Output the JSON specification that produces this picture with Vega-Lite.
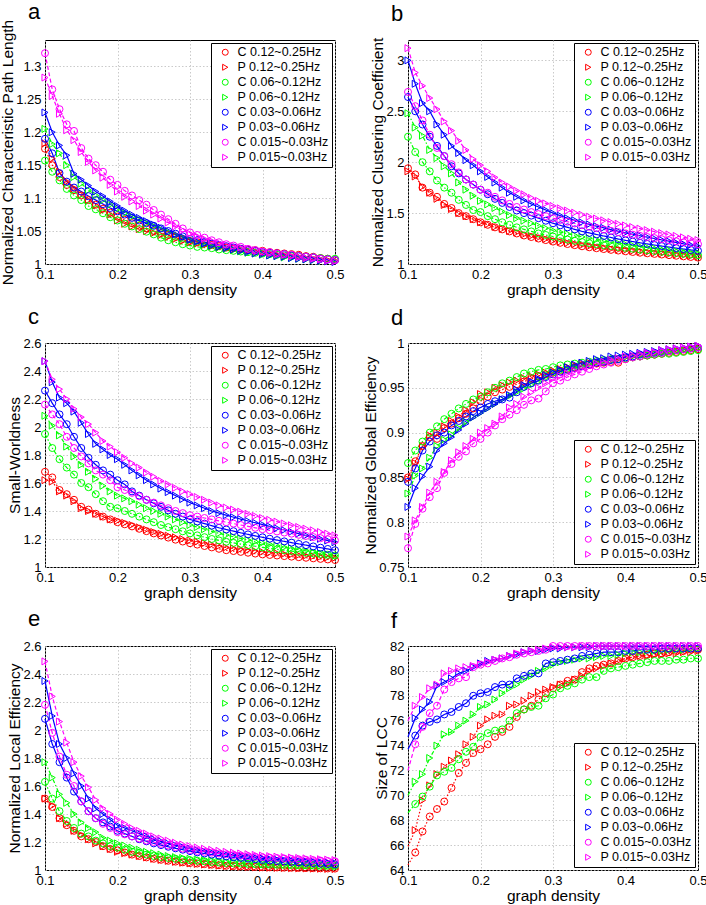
{
"$schema": "https://vega.github.io/schema/vega-lite/v6.json",
"padding": {"left": 0, "top": 0, "right": 0, "bottom": 0},
"params": [
{"name": "lab", "value": {"k1c": "C 0.12~0.25Hz", "k1p": "P 0.12~0.25Hz", "k2c": "C 0.06~0.12Hz", "k2p": "P 0.06~0.12Hz", "k3c": "C 0.03~0.06Hz", "k3p": "P 0.03~0.06Hz", "k4c": "C 0.015~0.03Hz", "k4p": "P 0.015~0.03Hz"}}
],
"datasets": {
"A": [
{"x":0.10,"k1c":1.175,"k1p":1.183,"k2c":1.157,"k2p":1.205,"k3c":1.190,"k3p":1.230,"k4c":1.320,"k4p":1.283},
{"x":0.11,"k1c":1.150,"k1p":1.160,"k2c":1.140,"k2p":1.182,"k3c":1.168,"k3p":1.200,"k4c":1.265,"k4p":1.255},
{"x":0.12,"k1c":1.132,"k1p":1.140,"k2c":1.127,"k2p":1.168,"k3c":1.138,"k3p":1.180,"k4c":1.235,"k4p":1.228},
{"x":0.13,"k1c":1.120,"k1p":1.125,"k2c":1.114,"k2p":1.150,"k3c":1.125,"k3p":1.165,"k4c":1.212,"k4p":1.203},
{"x":0.14,"k1c":1.112,"k1p":1.115,"k2c":1.104,"k2p":1.132,"k3c":1.116,"k3p":1.137,"k4c":1.202,"k4p":1.188},
{"x":0.15,"k1c":1.104,"k1p":1.105,"k2c":1.097,"k2p":1.122,"k3c":1.110,"k3p":1.128,"k4c":1.176,"k4p":1.170},
{"x":0.16,"k1c":1.097,"k1p":1.097,"k2c":1.088,"k2p":1.112,"k3c":1.103,"k3p":1.119,"k4c":1.160,"k4p":1.155},
{"x":0.17,"k1c":1.090,"k1p":1.089,"k2c":1.083,"k2p":1.104,"k3c":1.097,"k3p":1.110,"k4c":1.150,"k4p":1.142},
{"x":0.18,"k1c":1.084,"k1p":1.082,"k2c":1.077,"k2p":1.097,"k3c":1.091,"k3p":1.103,"k4c":1.140,"k4p":1.131},
{"x":0.19,"k1c":1.078,"k1p":1.075,"k2c":1.071,"k2p":1.090,"k3c":1.085,"k3p":1.095,"k4c":1.128,"k4p":1.120},
{"x":0.20,"k1c":1.072,"k1p":1.066,"k2c":1.066,"k2p":1.083,"k3c":1.080,"k3p":1.088,"k4c":1.120,"k4p":1.110},
{"x":0.21,"k1c":1.067,"k1p":1.061,"k2c":1.061,"k2p":1.077,"k3c":1.075,"k3p":1.081,"k4c":1.111,"k4p":1.102},
{"x":0.22,"k1c":1.062,"k1p":1.057,"k2c":1.057,"k2p":1.072,"k3c":1.070,"k3p":1.075,"k4c":1.104,"k4p":1.095},
{"x":0.23,"k1c":1.058,"k1p":1.053,"k2c":1.053,"k2p":1.067,"k3c":1.066,"k3p":1.070,"k4c":1.097,"k4p":1.088},
{"x":0.24,"k1c":1.054,"k1p":1.050,"k2c":1.049,"k2p":1.062,"k3c":1.062,"k3p":1.065,"k4c":1.090,"k4p":1.081},
{"x":0.25,"k1c":1.050,"k1p":1.047,"k2c":1.045,"k2p":1.057,"k3c":1.058,"k3p":1.060,"k4c":1.082,"k4p":1.075},
{"x":0.26,"k1c":1.047,"k1p":1.044,"k2c":1.040,"k2p":1.052,"k3c":1.054,"k3p":1.055,"k4c":1.075,"k4p":1.069},
{"x":0.27,"k1c":1.044,"k1p":1.041,"k2c":1.036,"k2p":1.048,"k3c":1.050,"k3p":1.050,"k4c":1.068,"k4p":1.063},
{"x":0.28,"k1c":1.041,"k1p":1.038,"k2c":1.033,"k2p":1.044,"k3c":1.046,"k3p":1.045,"k4c":1.061,"k4p":1.057},
{"x":0.29,"k1c":1.038,"k1p":1.035,"k2c":1.030,"k2p":1.040,"k3c":1.042,"k3p":1.041,"k4c":1.054,"k4p":1.051},
{"x":0.30,"k1c":1.035,"k1p":1.033,"k2c":1.028,"k2p":1.036,"k3c":1.038,"k3p":1.037,"k4c":1.048,"k4p":1.046},
{"x":0.31,"k1c":1.033,"k1p":1.031,"k2c":1.026,"k2p":1.033,"k3c":1.036,"k3p":1.034,"k4c":1.044,"k4p":1.042},
{"x":0.32,"k1c":1.031,"k1p":1.029,"k2c":1.025,"k2p":1.030,"k3c":1.033,"k3p":1.031,"k4c":1.040,"k4p":1.038},
{"x":0.33,"k1c":1.029,"k1p":1.027,"k2c":1.024,"k2p":1.027,"k3c":1.031,"k3p":1.028,"k4c":1.036,"k4p":1.035},
{"x":0.34,"k1c":1.027,"k1p":1.025,"k2c":1.022,"k2p":1.025,"k3c":1.029,"k3p":1.026,"k4c":1.033,"k4p":1.032},
{"x":0.35,"k1c":1.025,"k1p":1.024,"k2c":1.021,"k2p":1.023,"k3c":1.027,"k3p":1.024,"k4c":1.030,"k4p":1.029},
{"x":0.36,"k1c":1.024,"k1p":1.022,"k2c":1.020,"k2p":1.021,"k3c":1.025,"k3p":1.022,"k4c":1.028,"k4p":1.027},
{"x":0.37,"k1c":1.023,"k1p":1.021,"k2c":1.019,"k2p":1.019,"k3c":1.023,"k3p":1.020,"k4c":1.026,"k4p":1.025},
{"x":0.38,"k1c":1.022,"k1p":1.020,"k2c":1.018,"k2p":1.017,"k3c":1.021,"k3p":1.018,"k4c":1.023,"k4p":1.023},
{"x":0.39,"k1c":1.021,"k1p":1.019,"k2c":1.017,"k2p":1.016,"k3c":1.020,"k3p":1.016,"k4c":1.021,"k4p":1.021},
{"x":0.40,"k1c":1.020,"k1p":1.017,"k2c":1.016,"k2p":1.014,"k3c":1.018,"k3p":1.015,"k4c":1.019,"k4p":1.019},
{"x":0.41,"k1c":1.018,"k1p":1.016,"k2c":1.015,"k2p":1.013,"k3c":1.017,"k3p":1.013,"k4c":1.018,"k4p":1.017},
{"x":0.42,"k1c":1.017,"k1p":1.014,"k2c":1.014,"k2p":1.012,"k3c":1.016,"k3p":1.012,"k4c":1.016,"k4p":1.015},
{"x":0.43,"k1c":1.016,"k1p":1.013,"k2c":1.013,"k2p":1.010,"k3c":1.015,"k3p":1.011,"k4c":1.015,"k4p":1.014},
{"x":0.44,"k1c":1.015,"k1p":1.012,"k2c":1.012,"k2p":1.009,"k3c":1.013,"k3p":1.009,"k4c":1.014,"k4p":1.012},
{"x":0.45,"k1c":1.014,"k1p":1.011,"k2c":1.012,"k2p":1.008,"k3c":1.012,"k3p":1.008,"k4c":1.012,"k4p":1.011},
{"x":0.46,"k1c":1.012,"k1p":1.009,"k2c":1.011,"k2p":1.007,"k3c":1.011,"k3p":1.007,"k4c":1.011,"k4p":1.009},
{"x":0.47,"k1c":1.011,"k1p":1.008,"k2c":1.010,"k2p":1.006,"k3c":1.010,"k3p":1.006,"k4c":1.010,"k4p":1.008},
{"x":0.48,"k1c":1.009,"k1p":1.007,"k2c":1.009,"k2p":1.005,"k3c":1.008,"k3p":1.005,"k4c":1.008,"k4p":1.007},
{"x":0.49,"k1c":1.008,"k1p":1.006,"k2c":1.008,"k2p":1.005,"k3c":1.007,"k3p":1.004,"k4c":1.007,"k4p":1.005},
{"x":0.50,"k1c":1.006,"k1p":1.005,"k2c":1.008,"k2p":1.004,"k3c":1.006,"k3p":1.003,"k4c":1.006,"k4p":1.004}
],
"B": [
{"x":0.10,"k1c":1.94,"k1p":1.91,"k2c":2.25,"k2p":2.48,"k3c":2.64,"k3p":3.00,"k4c":2.69,"k4p":3.12},
{"x":0.11,"k1c":1.88,"k1p":1.86,"k2c":2.10,"k2p":2.34,"k3c":2.50,"k3p":2.77,"k4c":2.55,"k4p":2.88},
{"x":0.12,"k1c":1.75,"k1p":1.76,"k2c":2.00,"k2p":2.26,"k3c":2.37,"k3p":2.58,"k4c":2.41,"k4p":2.75},
{"x":0.13,"k1c":1.70,"k1p":1.70,"k2c":1.91,"k2p":2.12,"k3c":2.25,"k3p":2.50,"k4c":2.27,"k4p":2.63},
{"x":0.14,"k1c":1.66,"k1p":1.64,"k2c":1.82,"k2p":2.04,"k3c":2.16,"k3p":2.37,"k4c":2.14,"k4p":2.52},
{"x":0.15,"k1c":1.59,"k1p":1.58,"k2c":1.75,"k2p":1.96,"k3c":2.06,"k3p":2.27,"k4c":2.06,"k4p":2.40},
{"x":0.16,"k1c":1.55,"k1p":1.54,"k2c":1.70,"k2p":1.89,"k3c":1.96,"k3p":2.16,"k4c":1.98,"k4p":2.31},
{"x":0.17,"k1c":1.50,"k1p":1.50,"k2c":1.63,"k2p":1.80,"k3c":1.89,"k3p":2.09,"k4c":1.90,"k4p":2.21},
{"x":0.18,"k1c":1.47,"k1p":1.47,"k2c":1.58,"k2p":1.73,"k3c":1.83,"k3p":2.02,"k4c":1.83,"k4p":2.12},
{"x":0.19,"k1c":1.44,"k1p":1.44,"k2c":1.53,"k2p":1.67,"k3c":1.78,"k3p":1.97,"k4c":1.78,"k4p":2.03},
{"x":0.20,"k1c":1.41,"k1p":1.41,"k2c":1.51,"k2p":1.62,"k3c":1.73,"k3p":1.91,"k4c":1.73,"k4p":1.97},
{"x":0.21,"k1c":1.385,"k1p":1.39,"k2c":1.47,"k2p":1.585,"k3c":1.685,"k3p":1.855,"k4c":1.70,"k4p":1.91},
{"x":0.22,"k1c":1.36,"k1p":1.365,"k2c":1.44,"k2p":1.55,"k3c":1.64,"k3p":1.80,"k4c":1.66,"k4p":1.85},
{"x":0.23,"k1c":1.34,"k1p":1.345,"k2c":1.41,"k2p":1.515,"k3c":1.60,"k3p":1.75,"k4c":1.625,"k4p":1.80},
{"x":0.24,"k1c":1.32,"k1p":1.325,"k2c":1.385,"k2p":1.48,"k3c":1.56,"k3p":1.70,"k4c":1.59,"k4p":1.76},
{"x":0.25,"k1c":1.30,"k1p":1.31,"k2c":1.36,"k2p":1.45,"k3c":1.525,"k3p":1.66,"k4c":1.56,"k4p":1.72},
{"x":0.26,"k1c":1.28,"k1p":1.29,"k2c":1.34,"k2p":1.425,"k3c":1.50,"k3p":1.625,"k4c":1.535,"k4p":1.685},
{"x":0.27,"k1c":1.265,"k1p":1.275,"k2c":1.32,"k2p":1.40,"k3c":1.475,"k3p":1.59,"k4c":1.51,"k4p":1.65},
{"x":0.28,"k1c":1.25,"k1p":1.26,"k2c":1.30,"k2p":1.375,"k3c":1.45,"k3p":1.56,"k4c":1.49,"k4p":1.62},
{"x":0.29,"k1c":1.235,"k1p":1.245,"k2c":1.285,"k2p":1.352,"k3c":1.425,"k3p":1.53,"k4c":1.47,"k4p":1.595},
{"x":0.30,"k1c":1.22,"k1p":1.23,"k2c":1.27,"k2p":1.33,"k3c":1.40,"k3p":1.50,"k4c":1.45,"k4p":1.57},
{"x":0.31,"k1c":1.208,"k1p":1.218,"k2c":1.255,"k2p":1.313,"k3c":1.38,"k3p":1.475,"k4c":1.432,"k4p":1.547},
{"x":0.32,"k1c":1.196,"k1p":1.206,"k2c":1.24,"k2p":1.297,"k3c":1.36,"k3p":1.45,"k4c":1.415,"k4p":1.525},
{"x":0.33,"k1c":1.185,"k1p":1.195,"k2c":1.228,"k2p":1.282,"k3c":1.34,"k3p":1.43,"k4c":1.398,"k4p":1.504},
{"x":0.34,"k1c":1.174,"k1p":1.184,"k2c":1.216,"k2p":1.267,"k3c":1.32,"k3p":1.41,"k4c":1.382,"k4p":1.484},
{"x":0.35,"k1c":1.164,"k1p":1.174,"k2c":1.205,"k2p":1.253,"k3c":1.305,"k3p":1.39,"k4c":1.367,"k4p":1.465},
{"x":0.36,"k1c":1.155,"k1p":1.165,"k2c":1.195,"k2p":1.24,"k3c":1.29,"k3p":1.372,"k4c":1.353,"k4p":1.447},
{"x":0.37,"k1c":1.147,"k1p":1.157,"k2c":1.185,"k2p":1.228,"k3c":1.275,"k3p":1.355,"k4c":1.339,"k4p":1.429},
{"x":0.38,"k1c":1.139,"k1p":1.149,"k2c":1.176,"k2p":1.216,"k3c":1.26,"k3p":1.338,"k4c":1.326,"k4p":1.412},
{"x":0.39,"k1c":1.132,"k1p":1.141,"k2c":1.167,"k2p":1.205,"k3c":1.245,"k3p":1.322,"k4c":1.313,"k4p":1.395},
{"x":0.40,"k1c":1.125,"k1p":1.134,"k2c":1.158,"k2p":1.194,"k3c":1.232,"k3p":1.307,"k4c":1.30,"k4p":1.379},
{"x":0.41,"k1c":1.118,"k1p":1.127,"k2c":1.150,"k2p":1.183,"k3c":1.22,"k3p":1.292,"k4c":1.288,"k4p":1.363},
{"x":0.42,"k1c":1.111,"k1p":1.12,"k2c":1.142,"k2p":1.173,"k3c":1.208,"k3p":1.278,"k4c":1.276,"k4p":1.348},
{"x":0.43,"k1c":1.105,"k1p":1.114,"k2c":1.135,"k2p":1.163,"k3c":1.197,"k3p":1.264,"k4c":1.265,"k4p":1.333},
{"x":0.44,"k1c":1.099,"k1p":1.108,"k2c":1.128,"k2p":1.153,"k3c":1.186,"k3p":1.25,"k4c":1.254,"k4p":1.318},
{"x":0.45,"k1c":1.093,"k1p":1.102,"k2c":1.121,"k2p":1.144,"k3c":1.176,"k3p":1.237,"k4c":1.243,"k4p":1.304},
{"x":0.46,"k1c":1.087,"k1p":1.096,"k2c":1.114,"k2p":1.135,"k3c":1.166,"k3p":1.224,"k4c":1.233,"k4p":1.29},
{"x":0.47,"k1c":1.081,"k1p":1.09,"k2c":1.107,"k2p":1.126,"k3c":1.156,"k3p":1.211,"k4c":1.223,"k4p":1.276},
{"x":0.48,"k1c":1.075,"k1p":1.084,"k2c":1.10,"k2p":1.117,"k3c":1.147,"k3p":1.198,"k4c":1.213,"k4p":1.262},
{"x":0.49,"k1c":1.069,"k1p":1.078,"k2c":1.093,"k2p":1.108,"k3c":1.138,"k3p":1.186,"k4c":1.204,"k4p":1.248},
{"x":0.50,"k1c":1.063,"k1p":1.072,"k2c":1.086,"k2p":1.10,"k3c":1.13,"k3p":1.174,"k4c":1.195,"k4p":1.235}
],
"C": [
{"x":0.10,"k1c":1.68,"k1p":1.62,"k2c":1.95,"k2p":2.08,"k3c":2.26,"k3p":2.47,"k4c":2.16,"k4p":2.47},
{"x":0.11,"k1c":1.64,"k1p":1.61,"k2c":1.85,"k2p":2.01,"k3c":2.17,"k3p":2.32,"k4c":2.09,"k4p":2.34},
{"x":0.12,"k1c":1.55,"k1p":1.54,"k2c":1.77,"k2p":1.94,"k3c":2.09,"k3p":2.21,"k4c":2.02,"k4p":2.27},
{"x":0.13,"k1c":1.52,"k1p":1.51,"k2c":1.71,"k2p":1.86,"k3c":2.02,"k3p":2.17,"k4c":1.93,"k4p":2.20},
{"x":0.14,"k1c":1.48,"k1p":1.47,"k2c":1.66,"k2p":1.79,"k3c":1.93,"k3p":2.11,"k4c":1.85,"k4p":2.13},
{"x":0.15,"k1c":1.43,"k1p":1.42,"k2c":1.60,"k2p":1.73,"k3c":1.85,"k3p":2.03,"k4c":1.79,"k4p":2.07},
{"x":0.16,"k1c":1.41,"k1p":1.40,"k2c":1.57,"k2p":1.68,"k3c":1.78,"k3p":1.95,"k4c":1.74,"k4p":2.02},
{"x":0.17,"k1c":1.38,"k1p":1.38,"k2c":1.52,"k2p":1.63,"k3c":1.73,"k3p":1.88,"k4c":1.69,"k4p":1.96},
{"x":0.18,"k1c":1.36,"k1p":1.36,"k2c":1.47,"k2p":1.58,"k3c":1.69,"k3p":1.84,"k4c":1.66,"k4p":1.90},
{"x":0.19,"k1c":1.34,"k1p":1.34,"k2c":1.43,"k2p":1.54,"k3c":1.66,"k3p":1.80,"k4c":1.62,"k4p":1.86},
{"x":0.20,"k1c":1.32,"k1p":1.33,"k2c":1.42,"k2p":1.51,"k3c":1.62,"k3p":1.77,"k4c":1.57,"k4p":1.82},
{"x":0.21,"k1c":1.305,"k1p":1.315,"k2c":1.40,"k2p":1.49,"k3c":1.59,"k3p":1.73,"k4c":1.55,"k4p":1.78},
{"x":0.22,"k1c":1.29,"k1p":1.30,"k2c":1.38,"k2p":1.47,"k3c":1.54,"k3p":1.69,"k4c":1.53,"k4p":1.74},
{"x":0.23,"k1c":1.273,"k1p":1.283,"k2c":1.36,"k2p":1.445,"k3c":1.51,"k3p":1.655,"k4c":1.505,"k4p":1.71},
{"x":0.24,"k1c":1.256,"k1p":1.266,"k2c":1.34,"k2p":1.42,"k3c":1.48,"k3p":1.62,"k4c":1.48,"k4p":1.675},
{"x":0.25,"k1c":1.24,"k1p":1.25,"k2c":1.32,"k2p":1.40,"k3c":1.455,"k3p":1.59,"k4c":1.46,"k4p":1.645},
{"x":0.26,"k1c":1.225,"k1p":1.237,"k2c":1.30,"k2p":1.38,"k3c":1.43,"k3p":1.56,"k4c":1.44,"k4p":1.615},
{"x":0.27,"k1c":1.21,"k1p":1.224,"k2c":1.285,"k2p":1.36,"k3c":1.405,"k3p":1.535,"k4c":1.42,"k4p":1.59},
{"x":0.28,"k1c":1.195,"k1p":1.212,"k2c":1.27,"k2p":1.34,"k3c":1.38,"k3p":1.51,"k4c":1.40,"k4p":1.565},
{"x":0.29,"k1c":1.182,"k1p":1.20,"k2c":1.255,"k2p":1.32,"k3c":1.36,"k3p":1.485,"k4c":1.385,"k4p":1.54},
{"x":0.30,"k1c":1.17,"k1p":1.19,"k2c":1.24,"k2p":1.30,"k3c":1.34,"k3p":1.46,"k4c":1.37,"k4p":1.52},
{"x":0.31,"k1c":1.16,"k1p":1.18,"k2c":1.226,"k2p":1.285,"k3c":1.325,"k3p":1.44,"k4c":1.36,"k4p":1.50},
{"x":0.32,"k1c":1.15,"k1p":1.17,"k2c":1.213,"k2p":1.27,"k3c":1.31,"k3p":1.42,"k4c":1.35,"k4p":1.48},
{"x":0.33,"k1c":1.14,"k1p":1.16,"k2c":1.20,"k2p":1.255,"k3c":1.295,"k3p":1.40,"k4c":1.34,"k4p":1.46},
{"x":0.34,"k1c":1.13,"k1p":1.15,"k2c":1.19,"k2p":1.24,"k3c":1.28,"k3p":1.385,"k4c":1.33,"k4p":1.44},
{"x":0.35,"k1c":1.12,"k1p":1.14,"k2c":1.18,"k2p":1.228,"k3c":1.268,"k3p":1.37,"k4c":1.32,"k4p":1.425},
{"x":0.36,"k1c":1.114,"k1p":1.134,"k2c":1.172,"k2p":1.216,"k3c":1.256,"k3p":1.356,"k4c":1.31,"k4p":1.41},
{"x":0.37,"k1c":1.108,"k1p":1.128,"k2c":1.164,"k2p":1.204,"k3c":1.244,"k3p":1.342,"k4c":1.30,"k4p":1.395},
{"x":0.38,"k1c":1.102,"k1p":1.121,"k2c":1.156,"k2p":1.193,"k3c":1.233,"k3p":1.329,"k4c":1.29,"k4p":1.38},
{"x":0.39,"k1c":1.096,"k1p":1.114,"k2c":1.148,"k2p":1.182,"k3c":1.222,"k3p":1.316,"k4c":1.28,"k4p":1.365},
{"x":0.40,"k1c":1.09,"k1p":1.108,"k2c":1.14,"k2p":1.172,"k3c":1.212,"k3p":1.303,"k4c":1.27,"k4p":1.35},
{"x":0.41,"k1c":1.086,"k1p":1.103,"k2c":1.133,"k2p":1.162,"k3c":1.202,"k3p":1.29,"k4c":1.262,"k4p":1.337},
{"x":0.42,"k1c":1.082,"k1p":1.098,"k2c":1.126,"k2p":1.152,"k3c":1.192,"k3p":1.277,"k4c":1.254,"k4p":1.324},
{"x":0.43,"k1c":1.078,"k1p":1.093,"k2c":1.12,"k2p":1.142,"k3c":1.183,"k3p":1.264,"k4c":1.246,"k4p":1.311},
{"x":0.44,"k1c":1.074,"k1p":1.089,"k2c":1.114,"k2p":1.133,"k3c":1.174,"k3p":1.251,"k4c":1.238,"k4p":1.298},
{"x":0.45,"k1c":1.07,"k1p":1.085,"k2c":1.108,"k2p":1.124,"k3c":1.165,"k3p":1.238,"k4c":1.23,"k4p":1.286},
{"x":0.46,"k1c":1.066,"k1p":1.081,"k2c":1.102,"k2p":1.115,"k3c":1.156,"k3p":1.225,"k4c":1.222,"k4p":1.274},
{"x":0.47,"k1c":1.062,"k1p":1.077,"k2c":1.097,"k2p":1.106,"k3c":1.147,"k3p":1.213,"k4c":1.214,"k4p":1.262},
{"x":0.48,"k1c":1.058,"k1p":1.073,"k2c":1.092,"k2p":1.097,"k3c":1.138,"k3p":1.201,"k4c":1.206,"k4p":1.25},
{"x":0.49,"k1c":1.054,"k1p":1.069,"k2c":1.087,"k2p":1.088,"k3c":1.129,"k3p":1.189,"k4c":1.198,"k4p":1.238},
{"x":0.50,"k1c":1.05,"k1p":1.065,"k2c":1.082,"k2p":1.08,"k3c":1.12,"k3p":1.177,"k4c":1.19,"k4p":1.226}
],
"D": [
{"x":0.10,"k1c":0.850,"k1p":0.848,"k2c":0.866,"k2p":0.832,"k3c":0.845,"k3p":0.817,"k4c":0.771,"k4p":0.784},
{"x":0.11,"k1c":0.868,"k1p":0.866,"k2c":0.880,"k2p":0.852,"k3c":0.860,"k3p":0.838,"k4c":0.798,"k4p":0.802},
{"x":0.12,"k1c":0.885,"k1p":0.885,"k2c":0.890,"k2p":0.860,"k3c":0.880,"k3p":0.851,"k4c":0.815,"k4p":0.817},
{"x":0.13,"k1c":0.895,"k1p":0.897,"k2c":0.900,"k2p":0.872,"k3c":0.890,"k3p":0.862,"k4c":0.828,"k4p":0.833},
{"x":0.14,"k1c":0.893,"k1p":0.900,"k2c":0.907,"k2p":0.885,"k3c":0.897,"k3p":0.880,"k4c":0.838,"k4p":0.845},
{"x":0.15,"k1c":0.905,"k1p":0.907,"k2c":0.915,"k2p":0.892,"k3c":0.900,"k3p":0.888,"k4c":0.855,"k4p":0.856},
{"x":0.16,"k1c":0.910,"k1p":0.913,"k2c":0.921,"k2p":0.898,"k3c":0.908,"k3p":0.895,"k4c":0.865,"k4p":0.869},
{"x":0.17,"k1c":0.916,"k1p":0.918,"k2c":0.927,"k2p":0.905,"k3c":0.913,"k3p":0.903,"k4c":0.873,"k4p":0.878},
{"x":0.18,"k1c":0.921,"k1p":0.925,"k2c":0.932,"k2p":0.912,"k3c":0.918,"k3p":0.910,"k4c":0.879,"k4p":0.885},
{"x":0.19,"k1c":0.927,"k1p":0.934,"k2c":0.937,"k2p":0.917,"k3c":0.924,"k3p":0.917,"k4c":0.888,"k4p":0.893},
{"x":0.20,"k1c":0.935,"k1p":0.943,"k2c":0.940,"k2p":0.922,"k3c":0.928,"k3p":0.922,"k4c":0.893,"k4p":0.900},
{"x":0.21,"k1c":0.940,"k1p":0.945,"k2c":0.945,"k2p":0.927,"k3c":0.932,"k3p":0.927,"k4c":0.900,"k4p":0.905},
{"x":0.22,"k1c":0.945,"k1p":0.950,"k2c":0.950,"k2p":0.932,"k3c":0.935,"k3p":0.932,"k4c":0.908,"k4p":0.910},
{"x":0.23,"k1c":0.948,"k1p":0.953,"k2c":0.955,"k2p":0.937,"k3c":0.937,"k3p":0.937,"k4c":0.915,"k4p":0.918},
{"x":0.24,"k1c":0.951,"k1p":0.956,"k2c":0.958,"k2p":0.941,"k3c":0.939,"k3p":0.942,"k4c":0.920,"k4p":0.928},
{"x":0.25,"k1c":0.954,"k1p":0.958,"k2c":0.962,"k2p":0.945,"k3c":0.945,"k3p":0.948,"k4c":0.925,"k4p":0.932},
{"x":0.26,"k1c":0.957,"k1p":0.961,"k2c":0.966,"k2p":0.949,"k3c":0.951,"k3p":0.953,"k4c":0.931,"k4p":0.940},
{"x":0.27,"k1c":0.960,"k1p":0.963,"k2c":0.968,"k2p":0.953,"k3c":0.955,"k3p":0.957,"k4c":0.936,"k4p":0.945},
{"x":0.28,"k1c":0.963,"k1p":0.965,"k2c":0.970,"k2p":0.957,"k3c":0.958,"k3p":0.960,"k4c":0.938,"k4p":0.950},
{"x":0.29,"k1c":0.965,"k1p":0.967,"k2c":0.971,"k2p":0.961,"k3c":0.962,"k3p":0.964,"k4c":0.946,"k4p":0.955},
{"x":0.30,"k1c":0.967,"k1p":0.969,"k2c":0.973,"k2p":0.965,"k3c":0.965,"k3p":0.967,"k4c":0.955,"k4p":0.960},
{"x":0.31,"k1c":0.969,"k1p":0.971,"k2c":0.975,"k2p":0.968,"k3c":0.968,"k3p":0.970,"k4c":0.958,"k4p":0.963},
{"x":0.32,"k1c":0.971,"k1p":0.973,"k2c":0.976,"k2p":0.970,"k3c":0.970,"k3p":0.973,"k4c":0.962,"k4p":0.966},
{"x":0.33,"k1c":0.973,"k1p":0.975,"k2c":0.977,"k2p":0.972,"k3c":0.972,"k3p":0.976,"k4c":0.965,"k4p":0.969},
{"x":0.34,"k1c":0.975,"k1p":0.977,"k2c":0.978,"k2p":0.974,"k3c":0.974,"k3p":0.978,"k4c":0.968,"k4p":0.972},
{"x":0.35,"k1c":0.976,"k1p":0.978,"k2c":0.979,"k2p":0.976,"k3c":0.976,"k3p":0.980,"k4c":0.971,"k4p":0.974},
{"x":0.36,"k1c":0.977,"k1p":0.979,"k2c":0.980,"k2p":0.978,"k3c":0.978,"k3p":0.982,"k4c":0.974,"k4p":0.977},
{"x":0.37,"k1c":0.978,"k1p":0.980,"k2c":0.981,"k2p":0.980,"k3c":0.979,"k3p":0.983,"k4c":0.976,"k4p":0.979},
{"x":0.38,"k1c":0.979,"k1p":0.981,"k2c":0.982,"k2p":0.981,"k3c":0.981,"k3p":0.985,"k4c":0.978,"k4p":0.981},
{"x":0.39,"k1c":0.978,"k1p":0.982,"k2c":0.982,"k2p":0.983,"k3c":0.982,"k3p":0.986,"k4c":0.980,"k4p":0.983},
{"x":0.40,"k1c":0.982,"k1p":0.984,"k2c":0.983,"k2p":0.984,"k3c":0.984,"k3p":0.987,"k4c":0.982,"k4p":0.985},
{"x":0.41,"k1c":0.984,"k1p":0.985,"k2c":0.984,"k2p":0.985,"k3c":0.985,"k3p":0.988,"k4c":0.984,"k4p":0.986},
{"x":0.42,"k1c":0.985,"k1p":0.986,"k2c":0.985,"k2p":0.986,"k3c":0.987,"k3p":0.989,"k4c":0.985,"k4p":0.988},
{"x":0.43,"k1c":0.986,"k1p":0.987,"k2c":0.986,"k2p":0.987,"k3c":0.988,"k3p":0.990,"k4c":0.987,"k4p":0.989},
{"x":0.44,"k1c":0.987,"k1p":0.988,"k2c":0.987,"k2p":0.988,"k3c":0.989,"k3p":0.991,"k4c":0.988,"k4p":0.990},
{"x":0.45,"k1c":0.988,"k1p":0.989,"k2c":0.988,"k2p":0.989,"k3c":0.990,"k3p":0.992,"k4c":0.989,"k4p":0.992},
{"x":0.46,"k1c":0.989,"k1p":0.990,"k2c":0.988,"k2p":0.990,"k3c":0.991,"k3p":0.993,"k4c":0.991,"k4p":0.993},
{"x":0.47,"k1c":0.990,"k1p":0.991,"k2c":0.989,"k2p":0.991,"k3c":0.992,"k3p":0.994,"k4c":0.992,"k4p":0.994},
{"x":0.48,"k1c":0.991,"k1p":0.992,"k2c":0.990,"k2p":0.992,"k3c":0.993,"k3p":0.995,"k4c":0.993,"k4p":0.995},
{"x":0.49,"k1c":0.992,"k1p":0.993,"k2c":0.991,"k2p":0.993,"k3c":0.994,"k3p":0.996,"k4c":0.994,"k4p":0.996},
{"x":0.50,"k1c":0.993,"k1p":0.994,"k2c":0.992,"k2p":0.994,"k3c":0.995,"k3p":0.997,"k4c":0.995,"k4p":0.997}
],
"E": [
{"x":0.10,"k1c":1.51,"k1p":1.51,"k2c":1.63,"k2p":1.77,"k3c":2.08,"k3p":2.35,"k4c":2.18,"k4p":2.49},
{"x":0.11,"k1c":1.45,"k1p":1.46,"k2c":1.51,"k2p":1.66,"k3c":1.90,"k3p":2.10,"k4c":1.98,"k4p":2.24},
{"x":0.12,"k1c":1.37,"k1p":1.37,"k2c":1.42,"k2p":1.54,"k3c":1.77,"k3p":1.90,"k4c":1.81,"k4p":2.06},
{"x":0.13,"k1c":1.32,"k1p":1.33,"k2c":1.35,"k2p":1.48,"k3c":1.66,"k3p":1.80,"k4c":1.68,"k4p":1.91},
{"x":0.14,"k1c":1.28,"k1p":1.28,"k2c":1.30,"k2p":1.40,"k3c":1.56,"k3p":1.69,"k4c":1.60,"k4p":1.77},
{"x":0.15,"k1c":1.24,"k1p":1.25,"k2c":1.26,"k2p":1.34,"k3c":1.49,"k3p":1.60,"k4c":1.49,"k4p":1.67},
{"x":0.16,"k1c":1.22,"k1p":1.22,"k2c":1.24,"k2p":1.30,"k3c":1.42,"k3p":1.51,"k4c":1.42,"k4p":1.59},
{"x":0.17,"k1c":1.20,"k1p":1.19,"k2c":1.21,"k2p":1.27,"k3c":1.37,"k3p":1.44,"k4c":1.37,"k4p":1.50},
{"x":0.18,"k1c":1.17,"k1p":1.17,"k2c":1.19,"k2p":1.23,"k3c":1.34,"k3p":1.40,"k4c":1.33,"k4p":1.44},
{"x":0.19,"k1c":1.15,"k1p":1.15,"k2c":1.17,"k2p":1.21,"k3c":1.31,"k3p":1.36,"k4c":1.30,"k4p":1.40},
{"x":0.20,"k1c":1.14,"k1p":1.13,"k2c":1.16,"k2p":1.19,"k3c":1.28,"k3p":1.32,"k4c":1.27,"k4p":1.36},
{"x":0.21,"k1c":1.125,"k1p":1.12,"k2c":1.145,"k2p":1.175,"k3c":1.26,"k3p":1.30,"k4c":1.255,"k4p":1.33},
{"x":0.22,"k1c":1.11,"k1p":1.11,"k2c":1.13,"k2p":1.16,"k3c":1.24,"k3p":1.28,"k4c":1.24,"k4p":1.30},
{"x":0.23,"k1c":1.10,"k1p":1.10,"k2c":1.12,"k2p":1.145,"k3c":1.22,"k3p":1.26,"k4c":1.225,"k4p":1.28},
{"x":0.24,"k1c":1.09,"k1p":1.09,"k2c":1.11,"k2p":1.13,"k3c":1.205,"k3p":1.24,"k4c":1.21,"k4p":1.26},
{"x":0.25,"k1c":1.08,"k1p":1.08,"k2c":1.10,"k2p":1.12,"k3c":1.19,"k3p":1.22,"k4c":1.20,"k4p":1.24},
{"x":0.26,"k1c":1.073,"k1p":1.072,"k2c":1.093,"k2p":1.11,"k3c":1.178,"k3p":1.205,"k4c":1.187,"k4p":1.225},
{"x":0.27,"k1c":1.066,"k1p":1.065,"k2c":1.086,"k2p":1.10,"k3c":1.166,"k3p":1.19,"k4c":1.175,"k4p":1.21},
{"x":0.28,"k1c":1.06,"k1p":1.058,"k2c":1.08,"k2p":1.092,"k3c":1.155,"k3p":1.177,"k4c":1.164,"k4p":1.195},
{"x":0.29,"k1c":1.055,"k1p":1.052,"k2c":1.075,"k2p":1.086,"k3c":1.145,"k3p":1.164,"k4c":1.153,"k4p":1.182},
{"x":0.30,"k1c":1.05,"k1p":1.047,"k2c":1.07,"k2p":1.08,"k3c":1.135,"k3p":1.152,"k4c":1.143,"k4p":1.17},
{"x":0.31,"k1c":1.046,"k1p":1.043,"k2c":1.066,"k2p":1.075,"k3c":1.126,"k3p":1.142,"k4c":1.136,"k4p":1.161},
{"x":0.32,"k1c":1.042,"k1p":1.039,"k2c":1.062,"k2p":1.07,"k3c":1.118,"k3p":1.133,"k4c":1.13,"k4p":1.152},
{"x":0.33,"k1c":1.038,"k1p":1.035,"k2c":1.058,"k2p":1.066,"k3c":1.11,"k3p":1.125,"k4c":1.124,"k4p":1.144},
{"x":0.34,"k1c":1.034,"k1p":1.031,"k2c":1.054,"k2p":1.062,"k3c":1.103,"k3p":1.117,"k4c":1.118,"k4p":1.137},
{"x":0.35,"k1c":1.03,"k1p":1.028,"k2c":1.05,"k2p":1.058,"k3c":1.097,"k3p":1.11,"k4c":1.112,"k4p":1.13},
{"x":0.36,"k1c":1.028,"k1p":1.025,"k2c":1.048,"k2p":1.054,"k3c":1.091,"k3p":1.104,"k4c":1.107,"k4p":1.124},
{"x":0.37,"k1c":1.026,"k1p":1.023,"k2c":1.046,"k2p":1.051,"k3c":1.086,"k3p":1.098,"k4c":1.103,"k4p":1.118},
{"x":0.38,"k1c":1.024,"k1p":1.021,"k2c":1.044,"k2p":1.048,"k3c":1.081,"k3p":1.093,"k4c":1.099,"k4p":1.113},
{"x":0.39,"k1c":1.022,"k1p":1.019,"k2c":1.042,"k2p":1.045,"k3c":1.076,"k3p":1.088,"k4c":1.095,"k4p":1.108},
{"x":0.40,"k1c":1.02,"k1p":1.017,"k2c":1.04,"k2p":1.042,"k3c":1.072,"k3p":1.083,"k4c":1.091,"k4p":1.103},
{"x":0.41,"k1c":1.019,"k1p":1.016,"k2c":1.039,"k2p":1.04,"k3c":1.068,"k3p":1.079,"k4c":1.088,"k4p":1.099},
{"x":0.42,"k1c":1.018,"k1p":1.015,"k2c":1.038,"k2p":1.038,"k3c":1.064,"k3p":1.075,"k4c":1.085,"k4p":1.095},
{"x":0.43,"k1c":1.017,"k1p":1.014,"k2c":1.037,"k2p":1.036,"k3c":1.061,"k3p":1.071,"k4c":1.082,"k4p":1.092},
{"x":0.44,"k1c":1.016,"k1p":1.013,"k2c":1.036,"k2p":1.034,"k3c":1.058,"k3p":1.068,"k4c":1.079,"k4p":1.089},
{"x":0.45,"k1c":1.015,"k1p":1.012,"k2c":1.035,"k2p":1.032,"k3c":1.055,"k3p":1.065,"k4c":1.076,"k4p":1.086},
{"x":0.46,"k1c":1.014,"k1p":1.011,"k2c":1.034,"k2p":1.031,"k3c":1.052,"k3p":1.062,"k4c":1.073,"k4p":1.083},
{"x":0.47,"k1c":1.013,"k1p":1.01,"k2c":1.033,"k2p":1.03,"k3c":1.049,"k3p":1.059,"k4c":1.07,"k4p":1.08},
{"x":0.48,"k1c":1.012,"k1p":1.009,"k2c":1.032,"k2p":1.029,"k3c":1.046,"k3p":1.056,"k4c":1.067,"k4p":1.077},
{"x":0.49,"k1c":1.011,"k1p":1.008,"k2c":1.031,"k2p":1.028,"k3c":1.043,"k3p":1.053,"k4c":1.064,"k4p":1.074},
{"x":0.50,"k1c":1.01,"k1p":1.007,"k2c":1.03,"k2p":1.027,"k3c":1.04,"k3p":1.05,"k4c":1.062,"k4p":1.071}
],
"F": [
{"x":0.10,"k1c":64.4,"k1p":65.9,"k2c":68.6,"k2p":70.0,"k3c":73.7,"k3p":74.7,"k4c":72.0,"k4p":76.0},
{"x":0.11,"k1c":65.4,"k1p":67.2,"k2c":69.3,"k2p":71.1,"k3c":74.8,"k3p":76.2,"k4c":74.1,"k4p":77.2},
{"x":0.12,"k1c":67.1,"k1p":69.6,"k2c":69.9,"k2p":71.7,"k3c":75.6,"k3p":76.9,"k4c":75.5,"k4p":77.9},
{"x":0.13,"k1c":68.3,"k1p":70.8,"k2c":70.7,"k2p":73.0,"k3c":75.9,"k3p":77.5,"k4c":76.6,"k4p":78.6},
{"x":0.14,"k1c":68.9,"k1p":71.7,"k2c":71.6,"k2p":74.0,"k3c":76.1,"k3p":78.8,"k4c":77.2,"k4p":78.9},
{"x":0.15,"k1c":69.5,"k1p":72.3,"k2c":71.9,"k2p":74.9,"k3c":76.5,"k3p":79.1,"k4c":78.5,"k4p":79.8},
{"x":0.16,"k1c":70.6,"k1p":72.8,"k2c":72.2,"k2p":75.1,"k3c":76.7,"k3p":79.4,"k4c":79.1,"k4p":80.0},
{"x":0.17,"k1c":71.8,"k1p":73.3,"k2c":72.9,"k2p":75.6,"k3c":77.1,"k3p":79.8,"k4c":79.4,"k4p":80.2},
{"x":0.18,"k1c":72.6,"k1p":74.1,"k2c":73.5,"k2p":76.0,"k3c":77.4,"k3p":80.0,"k4c":79.5,"k4p":80.3},
{"x":0.19,"k1c":73.4,"k1p":74.7,"k2c":73.9,"k2p":76.5,"k3c":78.0,"k3p":80.3,"k4c":80.3,"k4p":80.4},
{"x":0.20,"k1c":73.7,"k1p":75.6,"k2c":74.7,"k2p":77.1,"k3c":78.2,"k3p":80.6,"k4c":80.5,"k4p":80.5},
{"x":0.21,"k1c":74.1,"k1p":76.1,"k2c":75.0,"k2p":77.3,"k3c":78.3,"k3p":80.8,"k4c":80.6,"k4p":80.7},
{"x":0.22,"k1c":74.7,"k1p":76.4,"k2c":75.2,"k2p":77.7,"k3c":78.7,"k3p":80.9,"k4c":80.8,"k4p":80.9},
{"x":0.23,"k1c":75.1,"k1p":76.5,"k2c":75.3,"k2p":78.2,"k3c":78.9,"k3p":81.0,"k4c":81.0,"k4p":81.0},
{"x":0.24,"k1c":75.5,"k1p":77.2,"k2c":76.0,"k2p":78.6,"k3c":78.9,"k3p":81.2,"k4c":81.1,"k4p":81.2},
{"x":0.25,"k1c":76.3,"k1p":77.3,"k2c":76.6,"k2p":78.9,"k3c":79.4,"k3p":81.3,"k4c":81.3,"k4p":81.4},
{"x":0.26,"k1c":76.9,"k1p":77.6,"k2c":76.9,"k2p":79.3,"k3c":79.6,"k3p":81.5,"k4c":81.4,"k4p":81.5},
{"x":0.27,"k1c":77.2,"k1p":78.0,"k2c":77.1,"k2p":79.6,"k3c":79.8,"k3p":81.6,"k4c":81.5,"k4p":81.6},
{"x":0.28,"k1c":77.7,"k1p":78.3,"k2c":77.2,"k2p":80.0,"k3c":79.8,"k3p":81.6,"k4c":81.6,"k4p":81.7},
{"x":0.29,"k1c":78.2,"k1p":78.5,"k2c":77.8,"k2p":80.2,"k3c":80.6,"k3p":81.7,"k4c":81.7,"k4p":81.8},
{"x":0.30,"k1c":78.6,"k1p":78.7,"k2c":78.1,"k2p":80.5,"k3c":80.7,"k3p":81.8,"k4c":82.0,"k4p":81.9},
{"x":0.31,"k1c":78.9,"k1p":78.9,"k2c":78.6,"k2p":80.7,"k3c":80.8,"k3p":81.8,"k4c":82.0,"k4p":81.9},
{"x":0.32,"k1c":79.2,"k1p":79.0,"k2c":78.8,"k2p":80.8,"k3c":80.9,"k3p":81.9,"k4c":82.0,"k4p":81.9},
{"x":0.33,"k1c":79.3,"k1p":79.3,"k2c":79.0,"k2p":80.9,"k3c":81.0,"k3p":81.9,"k4c":82.0,"k4p":81.9},
{"x":0.34,"k1c":79.9,"k1p":79.6,"k2c":79.3,"k2p":81.0,"k3c":81.2,"k3p":81.9,"k4c":82.0,"k4p":82.0},
{"x":0.35,"k1c":80.2,"k1p":80.0,"k2c":79.5,"k2p":81.0,"k3c":81.3,"k3p":81.9,"k4c":82.0,"k4p":82.0},
{"x":0.36,"k1c":80.4,"k1p":80.2,"k2c":79.5,"k2p":81.1,"k3c":81.4,"k3p":82.0,"k4c":82.0,"k4p":82.0},
{"x":0.37,"k1c":80.5,"k1p":80.4,"k2c":80.0,"k2p":81.2,"k3c":81.5,"k3p":82.0,"k4c":82.0,"k4p":82.0},
{"x":0.38,"k1c":80.6,"k1p":80.6,"k2c":80.2,"k2p":81.2,"k3c":81.5,"k3p":82.0,"k4c":82.0,"k4p":82.0},
{"x":0.39,"k1c":80.8,"k1p":80.8,"k2c":80.3,"k2p":81.3,"k3c":81.5,"k3p":82.0,"k4c":82.0,"k4p":82.0},
{"x":0.40,"k1c":81.0,"k1p":81.0,"k2c":80.4,"k2p":81.4,"k3c":81.6,"k3p":82.0,"k4c":82.0,"k4p":82.0},
{"x":0.41,"k1c":81.1,"k1p":81.1,"k2c":80.5,"k2p":81.5,"k3c":81.6,"k3p":82.0,"k4c":82.0,"k4p":82.0},
{"x":0.42,"k1c":81.2,"k1p":81.2,"k2c":80.6,"k2p":81.5,"k3c":81.7,"k3p":82.0,"k4c":82.0,"k4p":82.0},
{"x":0.43,"k1c":81.3,"k1p":81.2,"k2c":80.7,"k2p":81.6,"k3c":81.7,"k3p":82.0,"k4c":82.0,"k4p":82.0},
{"x":0.44,"k1c":81.4,"k1p":81.3,"k2c":80.8,"k2p":81.6,"k3c":81.7,"k3p":82.0,"k4c":82.0,"k4p":82.0},
{"x":0.45,"k1c":81.4,"k1p":81.3,"k2c":80.8,"k2p":81.6,"k3c":81.8,"k3p":82.0,"k4c":82.0,"k4p":82.0},
{"x":0.46,"k1c":81.5,"k1p":81.4,"k2c":80.8,"k2p":81.7,"k3c":81.8,"k3p":82.0,"k4c":82.0,"k4p":82.0},
{"x":0.47,"k1c":81.6,"k1p":81.4,"k2c":80.9,"k2p":81.7,"k3c":81.8,"k3p":82.0,"k4c":82.0,"k4p":82.0},
{"x":0.48,"k1c":81.6,"k1p":81.5,"k2c":80.9,"k2p":81.7,"k3c":81.8,"k3p":82.0,"k4c":82.0,"k4p":82.0},
{"x":0.49,"k1c":81.7,"k1p":81.5,"k2c":81.0,"k2p":81.8,"k3c":81.8,"k3p":82.0,"k4c":82.0,"k4p":82.0},
{"x":0.50,"k1c":81.7,"k1p":81.6,"k2c":81.0,"k2p":81.8,"k3c":81.8,"k3p":82.0,"k4c":82.0,"k4p":82.0}
]
},
"columns": 2,
"spacing": {"row": 79, "column": 73},
"bounds": "flush",
"resolve": {
"scale": {"x": "independent", "y": "independent", "color": "independent", "stroke": "independent", "shape": "independent", "strokeDash": "independent"},
"legend": {"color": "independent", "stroke": "independent", "shape": "independent", "strokeDash": "independent"}
},
"concat": [
{
"title": {"text": "a", "offset": -5},
"width": 290, "height": 224,
"data": {"name": "A"},
"transform": [{"fold": ["k1c","k1p","k2c","k2p","k3c","k3p","k4c","k4p"], "as": ["s","y"]}],
"encoding": {
"x": {"field": "x", "type": "quantitative", "scale": {"domain": [0.1, 0.5], "nice": false, "zero": false}, "axis": {"values": [0.1,0.2,0.3,0.4,0.5], "format": "~g", "title": "graph density"}},
"y": {"field": "y", "type": "quantitative", "scale": {"domain": [1, 1.34], "nice": false, "zero": false}, "axis": {"values": [1,1.05,1.1,1.15,1.2,1.25,1.3], "format": "~g", "title": "Normalized Characteristic Path Length"}}
},
"layer": [
{"mark": {"type": "line", "strokeWidth": 1.2}, "encoding": {"stroke": {"field": "s", "type": "nominal", "legend": null}, "strokeDash": {"field": "s", "type": "nominal", "legend": null, "scale": {"range": [[1.5,2],[1.5,2],[4,2,1.5,2],[4,2,1.5,2],[1,0],[1,0],[4,2.5],[4,2.5]]}}}},
{"mark": {"type": "point", "filled": false, "size": 49, "strokeWidth": 1, "opacity": 1}, "encoding": {
"color": {"field": "s", "type": "nominal", "legend": {"title": null, "zindex": 1, "labelExpr": "lab[datum.value]"}},
"shape": {"field": "s", "type": "nominal", "legend": null}}}
]
},
{
"title": {"text": "b", "offset": 11.5},
"width": 290, "height": 224,
"data": {"name": "B"},
"transform": [{"fold": ["k1c","k1p","k2c","k2p","k3c","k3p","k4c","k4p"], "as": ["s","y"]}],
"encoding": {
"x": {"field": "x", "type": "quantitative", "scale": {"domain": [0.1, 0.5], "nice": false, "zero": false}, "axis": {"values": [0.1,0.2,0.3,0.4,0.5], "format": "~g", "title": "graph density"}},
"y": {"field": "y", "type": "quantitative", "scale": {"domain": [1, 3.2], "nice": false, "zero": false}, "axis": {"values": [1,1.5,2,2.5,3], "format": "~g", "title": "Normalized Clustering Coefficient"}}
},
"layer": [
{"mark": {"type": "line", "strokeWidth": 1.2}, "encoding": {"stroke": {"field": "s", "type": "nominal", "legend": null}, "strokeDash": {"field": "s", "type": "nominal", "legend": null, "scale": {"range": [[1.5,2],[1.5,2],[4,2,1.5,2],[4,2,1.5,2],[1,0],[1,0],[4,2.5],[4,2.5]]}}}},
{"mark": {"type": "point", "filled": false, "size": 49, "strokeWidth": 1, "opacity": 1}, "encoding": {
"color": {"field": "s", "type": "nominal", "legend": {"title": null, "zindex": 1, "labelExpr": "lab[datum.value]"}},
"shape": {"field": "s", "type": "nominal", "legend": null}}}
]
},
{
"title": {"text": "c", "offset": 8},
"width": 290, "height": 224,
"data": {"name": "C"},
"transform": [{"fold": ["k1c","k1p","k2c","k2p","k3c","k3p","k4c","k4p"], "as": ["s","y"]}],
"encoding": {
"x": {"field": "x", "type": "quantitative", "scale": {"domain": [0.1, 0.5], "nice": false, "zero": false}, "axis": {"values": [0.1,0.2,0.3,0.4,0.5], "format": "~g", "title": "graph density"}},
"y": {"field": "y", "type": "quantitative", "scale": {"domain": [1, 2.6], "nice": false, "zero": false}, "axis": {"values": [1,1.2,1.4,1.6,1.8,2,2.2,2.4,2.6], "format": "~g", "title": "Small-Worldness"}}
},
"layer": [
{"mark": {"type": "line", "strokeWidth": 1.2}, "encoding": {"stroke": {"field": "s", "type": "nominal", "legend": null}, "strokeDash": {"field": "s", "type": "nominal", "legend": null, "scale": {"range": [[1.5,2],[1.5,2],[4,2,1.5,2],[4,2,1.5,2],[1,0],[1,0],[4,2.5],[4,2.5]]}}}},
{"mark": {"type": "point", "filled": false, "size": 49, "strokeWidth": 1, "opacity": 1}, "encoding": {
"color": {"field": "s", "type": "nominal", "legend": {"title": null, "zindex": 1, "labelExpr": "lab[datum.value]"}},
"shape": {"field": "s", "type": "nominal", "legend": null}}}
]
},
{
"title": {"text": "d", "offset": 7},
"width": 290, "height": 224,
"data": {"name": "D"},
"transform": [{"fold": ["k1c","k1p","k2c","k2p","k3c","k3p","k4c","k4p"], "as": ["s","y"]}],
"encoding": {
"x": {"field": "x", "type": "quantitative", "scale": {"domain": [0.1, 0.5], "nice": false, "zero": false}, "axis": {"values": [0.1,0.2,0.3,0.4,0.5], "format": "~g", "title": "graph density"}},
"y": {"field": "y", "type": "quantitative", "scale": {"domain": [0.75, 1], "nice": false, "zero": false}, "axis": {"values": [0.75,0.8,0.85,0.9,0.95,1], "format": "~g", "title": "Normalized Global Efficiency"}}
},
"layer": [
{"mark": {"type": "line", "strokeWidth": 1.2}, "encoding": {"stroke": {"field": "s", "type": "nominal", "legend": null}, "strokeDash": {"field": "s", "type": "nominal", "legend": null, "scale": {"range": [[1.5,2],[1.5,2],[4,2,1.5,2],[4,2,1.5,2],[1,0],[1,0],[4,2.5],[4,2.5]]}}}},
{"mark": {"type": "point", "filled": false, "size": 49, "strokeWidth": 1, "opacity": 1}, "encoding": {
"color": {"field": "s", "type": "nominal", "legend": {"title": null, "orient": "bottom-right", "zindex": 1, "labelExpr": "lab[datum.value]"}},
"shape": {"field": "s", "type": "nominal", "legend": null}}}
]
},
{
"title": {"text": "e", "offset": 9},
"width": 290, "height": 224,
"data": {"name": "E"},
"transform": [{"fold": ["k1c","k1p","k2c","k2p","k3c","k3p","k4c","k4p"], "as": ["s","y"]}],
"encoding": {
"x": {"field": "x", "type": "quantitative", "scale": {"domain": [0.1, 0.5], "nice": false, "zero": false}, "axis": {"values": [0.1,0.2,0.3,0.4,0.5], "format": "~g", "title": "graph density"}},
"y": {"field": "y", "type": "quantitative", "scale": {"domain": [1, 2.6], "nice": false, "zero": false}, "axis": {"values": [1,1.2,1.4,1.6,1.8,2,2.2,2.4,2.6], "format": "~g", "title": "Normalized Local Efficiency"}}
},
"layer": [
{"mark": {"type": "line", "strokeWidth": 1.2}, "encoding": {"stroke": {"field": "s", "type": "nominal", "legend": null}, "strokeDash": {"field": "s", "type": "nominal", "legend": null, "scale": {"range": [[1.5,2],[1.5,2],[4,2,1.5,2],[4,2,1.5,2],[1,0],[1,0],[4,2.5],[4,2.5]]}}}},
{"mark": {"type": "point", "filled": false, "size": 49, "strokeWidth": 1, "opacity": 1}, "encoding": {
"color": {"field": "s", "type": "nominal", "legend": {"title": null, "zindex": 1, "labelExpr": "lab[datum.value]"}},
"shape": {"field": "s", "type": "nominal", "legend": null}}}
]
},
{
"title": {"text": "f", "offset": 7},
"width": 290, "height": 224,
"data": {"name": "F"},
"transform": [{"fold": ["k1c","k1p","k2c","k2p","k3c","k3p","k4c","k4p"], "as": ["s","y"]}],
"encoding": {
"x": {"field": "x", "type": "quantitative", "scale": {"domain": [0.1, 0.5], "nice": false, "zero": false}, "axis": {"values": [0.1,0.2,0.3,0.4,0.5], "format": "~g", "title": "graph density"}},
"y": {"field": "y", "type": "quantitative", "scale": {"domain": [64, 82], "nice": false, "zero": false}, "axis": {"values": [64,66,68,70,72,74,76,78,80,82], "format": "~g", "title": "Size of LCC"}}
},
"layer": [
{"mark": {"type": "line", "strokeWidth": 1.2}, "encoding": {"stroke": {"field": "s", "type": "nominal", "legend": null}, "strokeDash": {"field": "s", "type": "nominal", "legend": null, "scale": {"range": [[1.5,2],[1.5,2],[4,2,1.5,2],[4,2,1.5,2],[1,0],[1,0],[4,2.5],[4,2.5]]}}}},
{"transform": [{"filter": "datum.x > 0.105"}], "mark": {"type": "point", "filled": false, "size": 49, "strokeWidth": 1, "opacity": 1}, "encoding": {
"color": {"field": "s", "type": "nominal", "legend": {"title": null, "orient": "bottom-right", "zindex": 1, "labelExpr": "lab[datum.value]"}},
"shape": {"field": "s", "type": "nominal", "legend": null}}}
]
}
],
"config": {
"font": "Liberation Sans",
"background": "white",
"view": {"stroke": "#000", "strokeWidth": 1},
"range": {
"category": ["#ff0000","#ff0000","#00ff00","#00ff00","#0000ff","#0000ff","#ff00ff","#ff00ff"],
"symbol": ["circle","triangle-right","circle","triangle-right","circle","triangle-right","circle","triangle-right"]
},
"axis": {"grid": true, "gridColor": "#bdbdbd", "gridDash": [1.5, 2], "gridWidth": 0.8, "domain": false, "ticks": false, "labelFont": "Liberation Sans", "labelFontSize": 13, "labelColor": "#000", "titleFont": "Liberation Sans", "titleFontSize": 15.5, "titleFontWeight": "normal", "titleColor": "#000"},
"axisX": {"labelPadding": 4, "titlePadding": 1, "labelFlush": false, "labelOverlap": false},
"axisY": {"labelPadding": 4, "titlePadding": 0, "labelFlush": false, "labelOverlap": false},
"legend": {"orient": "top-right", "offset": 3, "padding": 3, "strokeColor": "#000", "fillColor": "#fff", "labelFont": "Liberation Sans", "labelFontSize": 12.5, "labelColor": "#000", "labelLimit": 0, "rowPadding": 2, "symbolSize": 36, "symbolStrokeWidth": 1, "symbolOffset": 5, "labelOffset": 6, "cornerRadius": 0},
"title": {"fontSize": 22, "fontWeight": "normal", "anchor": "start", "frame": "group", "dx": -17, "baseline": "alphabetic", "font": "Liberation Sans", "color": "#000"}
}
}
